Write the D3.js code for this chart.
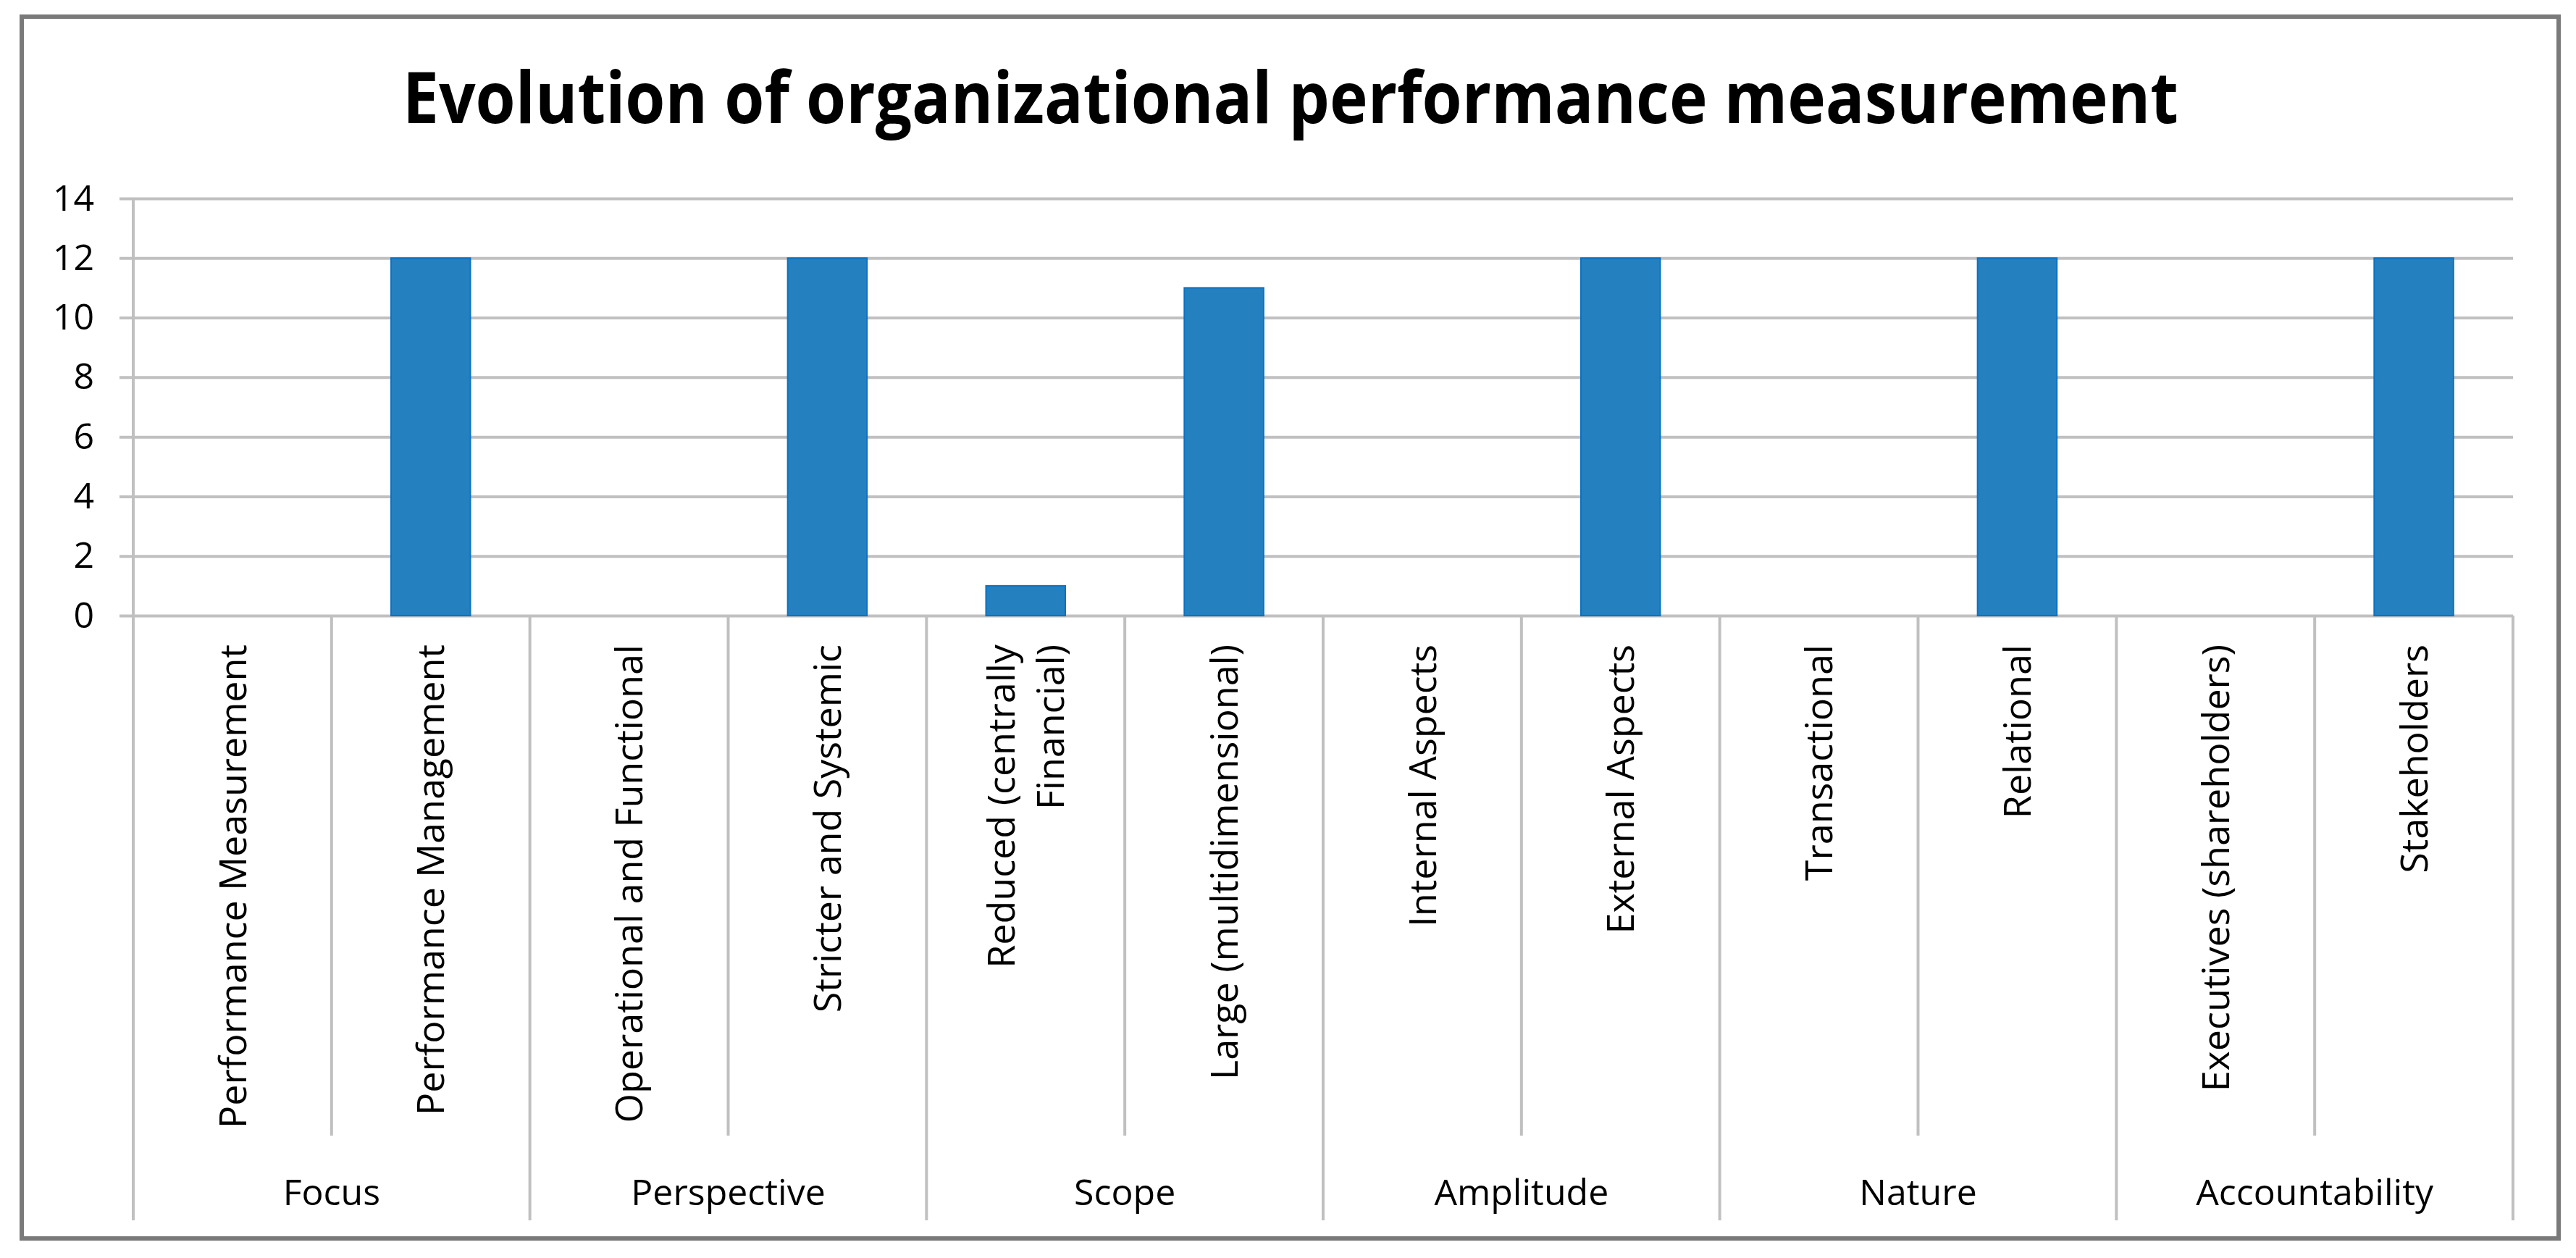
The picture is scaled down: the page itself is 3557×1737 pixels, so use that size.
<!DOCTYPE html>
<html>
<head>
<meta charset="utf-8">
<style>
	body { margin: 0; background: #fff; }
	text { font-family: 'Open Sans', sans-serif; fill: #000; }
</style>
<script src="https://cdn.jsdelivr.net/npm/d3@7"></script>
</head>
<body>
<svg></svg>
<script>
/************* Evolution of organizational performance measurement *************/

var title = 'Evolution of organizational performance measurement';

var categories = ['Performance Measurement', 'Performance Management',
	'Operational and Functional', 'Stricter and Systemic',
	'Reduced (centrally\nFinancial)', 'Large (multidimensional)',
	'Internal Aspects', 'External Aspects',
	'Transactional', 'Relational',
	'Executives (shareholders)', 'Stakeholders'];

var groups = ['Focus', 'Perspective', 'Scope', 'Amplitude', 'Nature', 'Accountability'];

var values = [0, 12, 0, 12, 1, 11, 0, 12, 0, 12, 0, 12];

var yTicks = [0, 2, 4, 6, 8, 10, 12, 14];

var width = 3557, height = 1737;
var plotLeft = 184, plotRight = 3470, plotTop = 274, plotBottom = 850;
var subTickEnd = 1568, groupTickEnd = 1685;

var svg = d3.select('svg')
	.attr('width', width)
	.attr('height', height);

// chart border
svg.append('rect')
	.attr('x', 30).attr('y', 23)
	.attr('width', 3503).attr('height', 1687)
	.attr('fill', '#fff')
	.attr('stroke', '#7a7a7a')
	.attr('stroke-width', 6);

svg.append('text')
	.attr('x', 1782).attr('y', 170)
	.attr('text-anchor', 'middle')
	.attr('font-weight', 'bold')
	.attr('font-size', 98)
	.attr('textLength', 2452)
	.attr('lengthAdjust', 'spacingAndGlyphs')
	.text(title);

var x = d3.scaleBand()
	.domain(categories)
	.range([plotLeft, plotRight])
	.paddingInner(0.6)
	.paddingOuter(0.3);

var slot = d3.scaleBand()
	.domain(d3.range(categories.length))
	.range([plotLeft, plotRight]);

var y = d3.scaleLinear()
	.domain([0, 14])
	.range([plotBottom, plotTop]);

// gridlines + tick labels from one axis
var yAxis = svg.append('g')
	.attr('transform', 'translate(' + plotRight + ',0)')
	.call(d3.axisLeft(y)
		.tickValues(yTicks)
		.tickSize(plotRight - 165)
		.tickPadding(35)
		.tickFormat(d3.format('d')));

yAxis.select('.domain').remove();
yAxis.selectAll('line')
	.attr('stroke', '#c0c0c0')
	.attr('stroke-width', 4);
yAxis.selectAll('text')
	.attr('font-size', 50)
	.attr('font-family', "'Open Sans', sans-serif")
	.attr('fill', '#000');

// category separators: short between items, long between groups
var edges = d3.range(categories.length + 1);
var edgeX = function(i) { return i < categories.length ? slot(i) : plotRight; };
svg.append('g').selectAll('line')
	.data(edges)
	.join('line')
	.attr('x1', edgeX)
	.attr('x2', edgeX)
	.attr('y1', function(i) { return i === 0 ? plotTop : plotBottom; })
	.attr('y2', function(i) { return i % 2 === 0 ? groupTickEnd : subTickEnd; })
	.attr('stroke', '#c0c0c0')
	.attr('stroke-width', 4);

svg.append('g').selectAll('rect')
	.data(values)
	.join('rect')
	.attr('x', function(d, i) { return x(categories[i]); })
	.attr('y', function(d) { return y(d); })
	.attr('width', x.bandwidth())
	.attr('height', function(d) { return y(0) - y(d); })
	.attr('fill', '#2580c0')
	.attr('stroke', '#0b72c2')
	.attr('stroke-width', 2)
	.attr('display', function(d) { return d > 0 ? null : 'none'; });

// rotated item labels
var labels = svg.append('g').selectAll('text')
	.data(categories)
	.join('text')
	.attr('transform', function(d) {
		return 'translate(' + (x(d) + x.bandwidth() / 2) + ',890) rotate(-90)';
	})
	.attr('text-anchor', 'end')
	.attr('font-size', 52);

labels.selectAll('tspan')
	.data(function(d) {
		var lines = d.split('\n');
		return lines.map(function(l, k) { return { text: l, off: (k - (lines.length - 1) / 2) * 68 }; });
	})
	.join('tspan')
	.attr('x', 0)
	.attr('y', function(d) { return d.off; })
	.attr('dy', '0.36em')
	.text(function(d) { return d.text; });

svg.append('g').selectAll('text')
	.data(groups)
	.join('text')
	.attr('x', function(d, i) { return slot(i * 2) + slot.bandwidth(); })
	.attr('y', 1664)
	.attr('text-anchor', 'middle')
	.attr('font-size', 50)
	.text(function(d) { return d; });
</script>
</body>
</html>
